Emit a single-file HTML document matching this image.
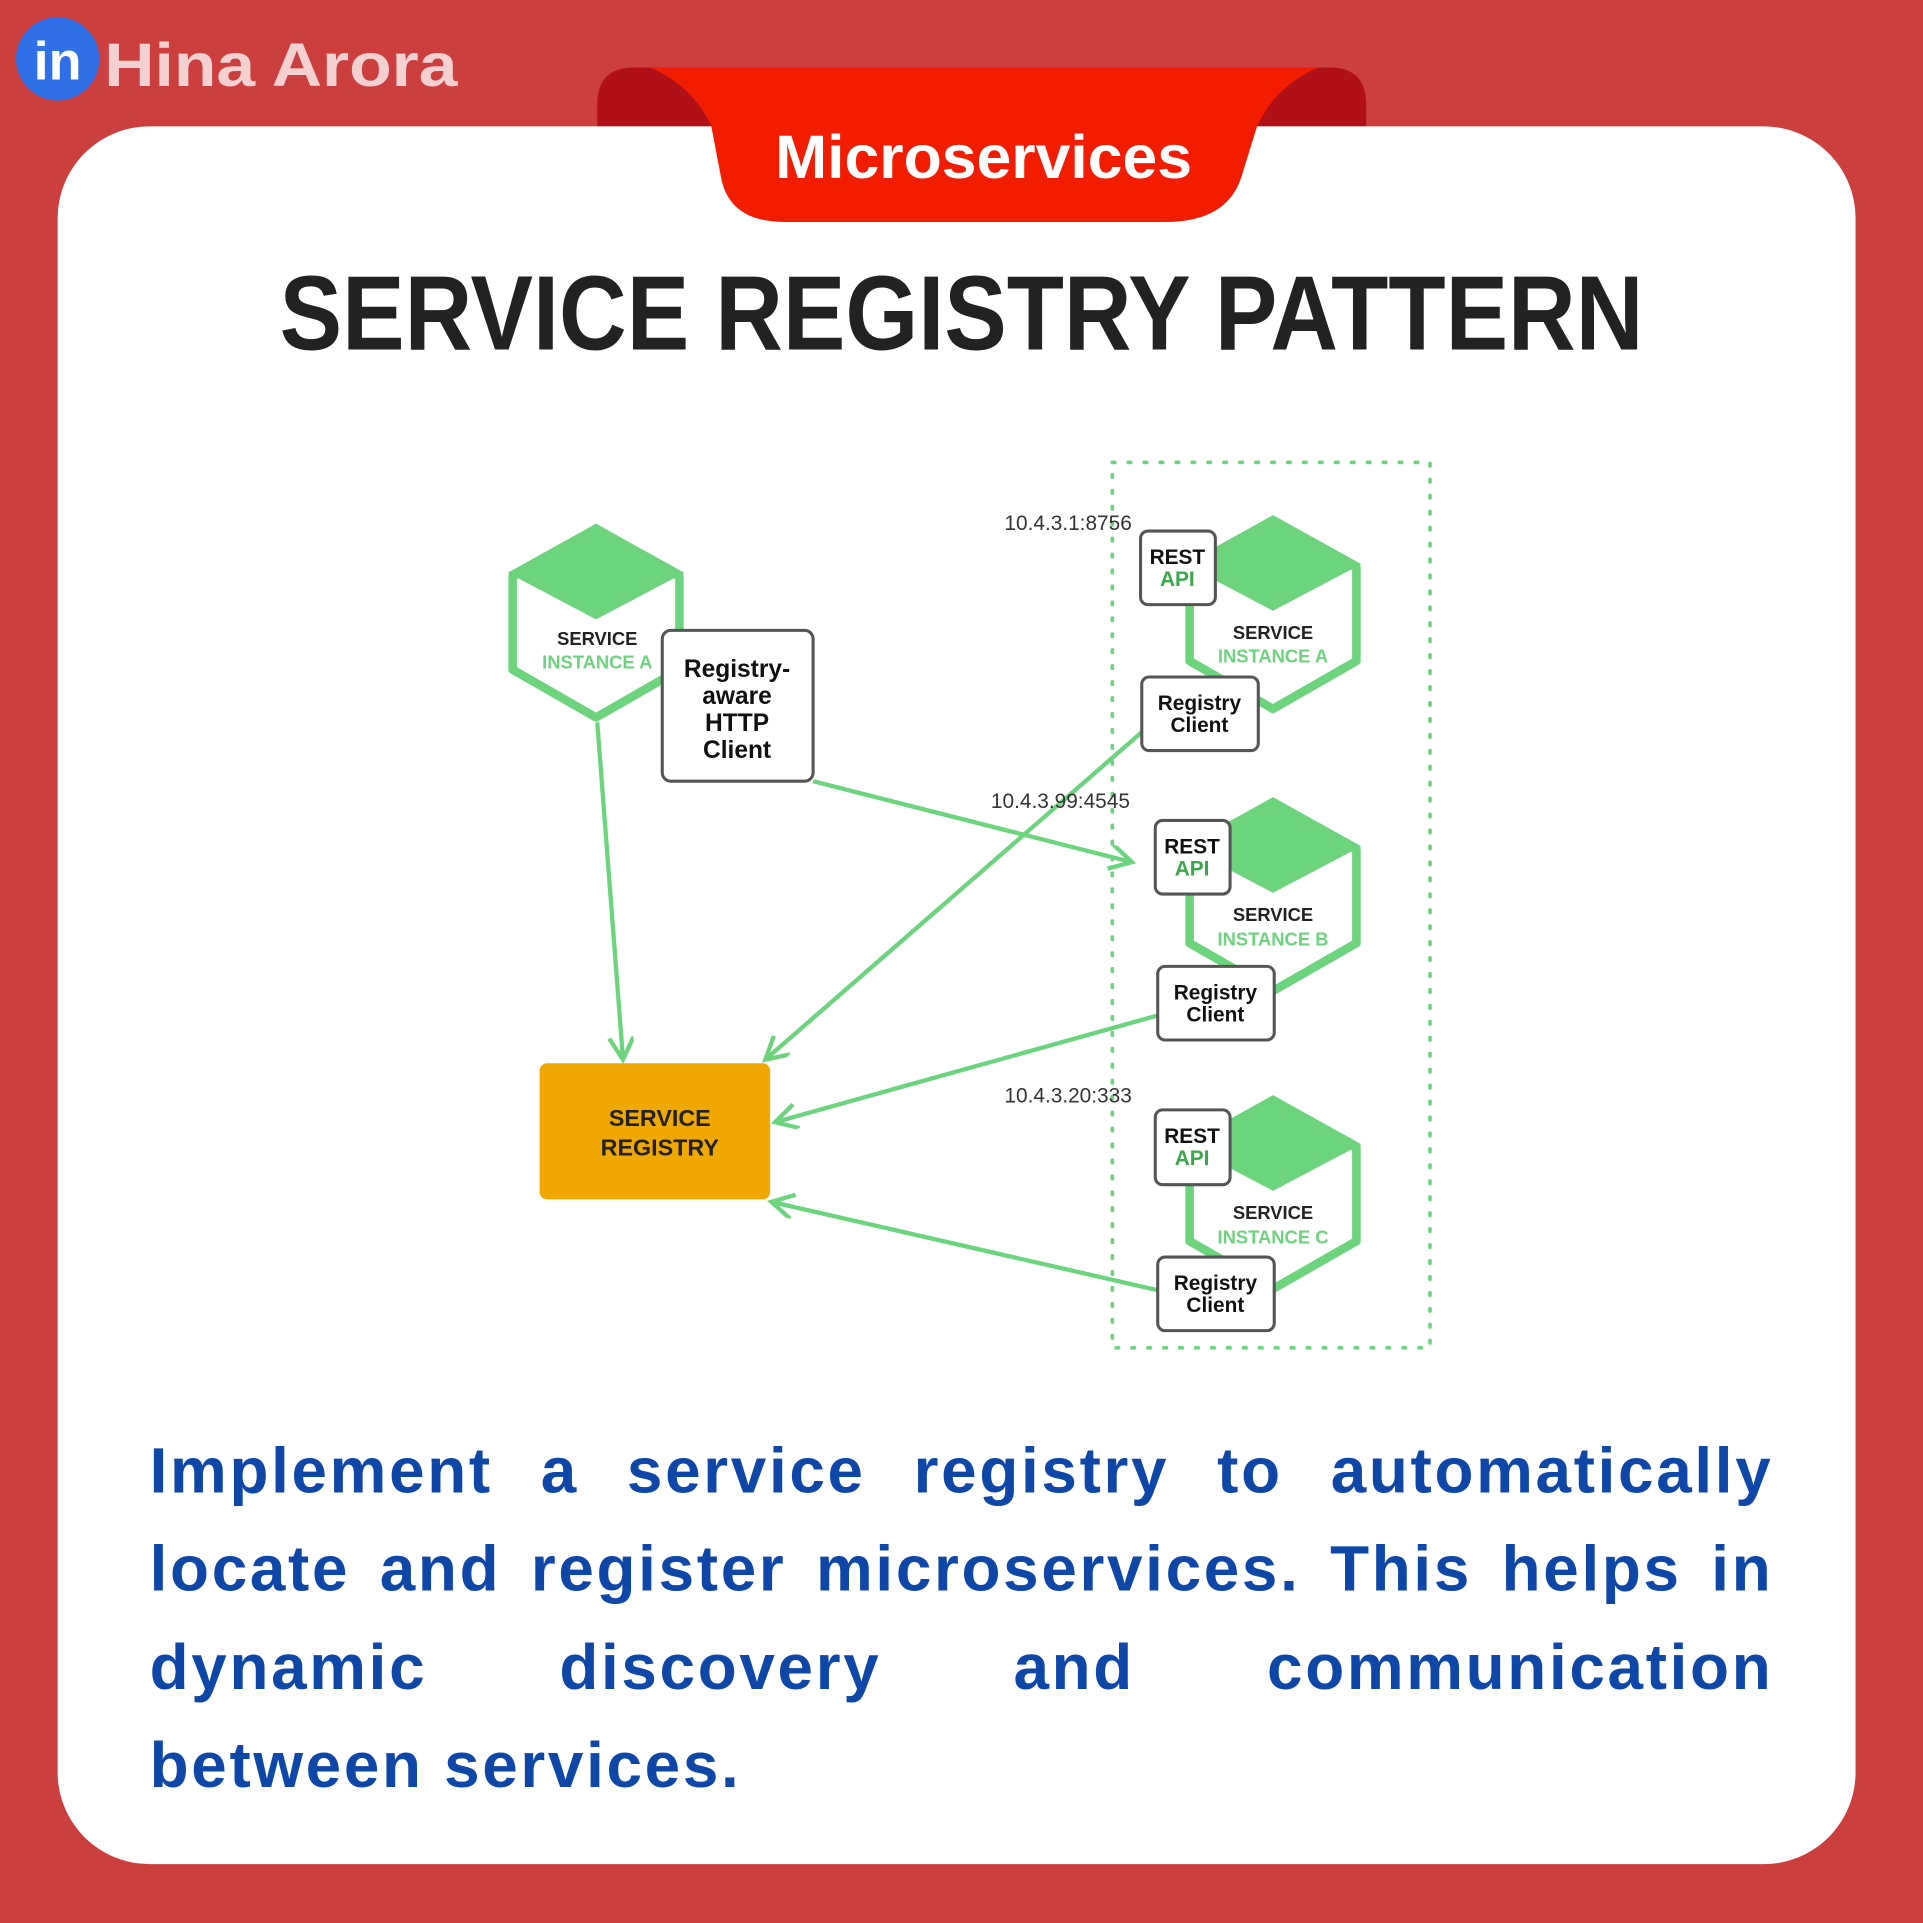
<!DOCTYPE html>
<html><head><meta charset="utf-8"><style>
html,body{margin:0;padding:0;background:#cd3f3f;}
#w{width:1568px;height:1568px;transform:scale(1.22640);transform-origin:0 0;position:relative;overflow:hidden;}
svg{position:absolute;left:0;top:0;}
.t{position:absolute;left:122px;width:1324px;top:1160px;font-family:"Liberation Sans",sans-serif;font-weight:bold;font-size:52px;letter-spacing:2.2px;color:#0f47a8;line-height:80px;}
.t div{text-align:justify;text-align-last:justify;white-space:nowrap;}
.t div.l{text-align-last:left;}
</style></head><body><div id="w">
<svg width="1568" height="1568" viewBox="0 0 1568 1568" font-family="Liberation Sans, sans-serif">
<defs>
<marker id="a" markerWidth="40" markerHeight="40" refX="20" refY="10" orient="auto" markerUnits="userSpaceOnUse" viewBox="0 0 40 40">
<path d="M2,0 L20,10 L2,20" fill="none" stroke="#6dd47e" stroke-width="3.5"/>
</marker>
</defs>
<rect width="1568" height="1568" fill="#cd3f3f"/>
<path d="M487,103 L487,85 Q487,55 517,55 L1084,55 Q1114,55 1114,85 L1114,103 Z" fill="#b01119"/>
<rect x="47" y="103" width="1466" height="1417" rx="75" fill="#fff"/>
<path d="M530,55 L1075,55 Q1040,70 1025,103 L1012,145 Q1000,181 950,181 L640,181 Q595,181 588,145 L580,103 Q565,70 530,55 Z" fill="#f21c00"/>
<text x="802" y="145" text-anchor="middle" font-size="50" font-weight="bold" fill="#fff" textLength="340" lengthAdjust="spacingAndGlyphs">Microservices</text>
<circle cx="47" cy="48" r="34" fill="#2f6fe8"/>
<text x="47" y="65" text-anchor="middle" font-size="44" font-weight="bold" fill="#fff">in</text>
<text x="85" y="70" font-size="50" font-weight="bold" fill="#f5d0d0" textLength="288" lengthAdjust="spacingAndGlyphs">Hina Arora</text>
<text x="784" y="285" text-anchor="middle" font-size="86" font-weight="bold" fill="#222" textLength="1112" lengthAdjust="spacingAndGlyphs">SERVICE REGISTRY PATTERN</text>
<rect x="907" y="377" width="259" height="722" fill="none" stroke="#6dd47e" stroke-width="3" stroke-dasharray="2 11" stroke-linecap="round"/>
<g stroke="#6dd47e" stroke-width="3.5" fill="none" marker-end="url(#a)">
<line x1="487" y1="589" x2="508" y2="864"/>
<line x1="663" y1="637" x2="923" y2="703"/>
<line x1="931" y1="597" x2="624" y2="864"/>
<line x1="944" y1="828" x2="632" y2="915"/>
<line x1="944" y1="1052" x2="629" y2="980"/>
</g>
<g id="hx">
<polygon points="486,431 554,470 554,546 486,585 418,546 418,470" fill="#fff" stroke="#6dd47e" stroke-width="7" stroke-linejoin="round"/>
<polygon points="486,427 558,467 486,505 414,467" fill="#6dd47e"/>
</g>
<text x="487" y="526" text-anchor="middle" font-size="15" font-weight="bold" fill="#222">SERVICE</text>
<text x="487" y="545" text-anchor="middle" font-size="15" font-weight="bold" fill="#6dd47e">INSTANCE A</text>
<rect x="540" y="514" width="123" height="123" rx="7" fill="#fff" stroke="#555" stroke-width="2.5"/>
<g font-size="20" font-weight="bold" fill="#111" text-anchor="middle">
<text x="601" y="552">Registry-</text><text x="601" y="574">aware</text><text x="601" y="596">HTTP</text><text x="601" y="618">Client</text>
</g>
<use href="#hx" transform="translate(552,-7)"/>
<use href="#hx" transform="translate(552,223)"/>
<use href="#hx" transform="translate(552,466)"/>
<g font-size="15" font-weight="bold" text-anchor="middle">
<text x="1038" y="521" fill="#222">SERVICE</text><text x="1038" y="540" fill="#6dd47e">INSTANCE A</text>
<text x="1038" y="751" fill="#222">SERVICE</text><text x="1038" y="771" fill="#6dd47e">INSTANCE B</text>
<text x="1038" y="994" fill="#222">SERVICE</text><text x="1038" y="1014" fill="#6dd47e">INSTANCE C</text>
</g>
<g fill="#fff" stroke="#555" stroke-width="2.5">
<rect x="930" y="433" width="61" height="60" rx="6"/>
<rect x="942" y="669" width="61" height="60" rx="6"/>
<rect x="942" y="905" width="61" height="61" rx="6"/>
<rect x="931" y="552" width="95" height="60" rx="6"/>
<rect x="944" y="788" width="95" height="60" rx="6"/>
<rect x="944" y="1025" width="95" height="60" rx="6"/>
</g>
<g font-size="17" font-weight="bold" text-anchor="middle">
<text x="960" y="460" fill="#111">REST</text><text x="960" y="478" fill="#3aa84a">API</text>
<text x="972" y="696" fill="#111">REST</text><text x="972" y="714" fill="#3aa84a">API</text>
<text x="972" y="932" fill="#111">REST</text><text x="972" y="950" fill="#3aa84a">API</text>
<g fill="#111">
<text x="978" y="579">Registry</text><text x="978" y="597">Client</text>
<text x="991" y="815">Registry</text><text x="991" y="833">Client</text>
<text x="991" y="1052">Registry</text><text x="991" y="1070">Client</text>
</g>
</g>
<g font-size="17" fill="#333">
<text x="819" y="432">10.4.3.1:8756</text>
<text x="808" y="659">10.4.3.99:4545</text>
<text x="819" y="899">10.4.3.20:333</text>
</g>
<rect x="440" y="867" width="188" height="111" rx="6" fill="#f0a800"/>
<g font-size="19" font-weight="bold" fill="#222" text-anchor="middle">
<text x="538" y="918">SERVICE</text><text x="538" y="942">REGISTRY</text>
</g>
</svg>
<div class="t">
<div>Implement a service registry to automatically</div>
<div>locate and register microservices. This helps in</div>
<div>dynamic discovery and communication</div>
<div class="l">between services.</div>
</div>
</div></body></html>
